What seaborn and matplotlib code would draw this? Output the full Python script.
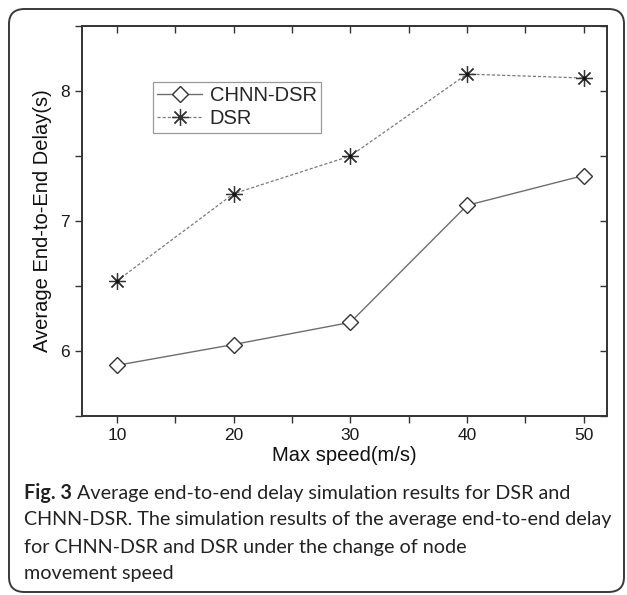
import matplotlib
matplotlib.use("Agg")
import matplotlib.pyplot as plt
import seaborn as sns
import numpy as np
import pandas as pd
from matplotlib.patches import FancyBboxPatch
from matplotlib.ticker import MultipleLocator

# ---- data ----
speeds = [10, 20, 30, 40, 50]
chnn_dsr = [5.89, 6.05, 6.22, 7.12, 7.35]
dsr = [6.54, 7.21, 7.50, 8.13, 8.10]
series_names = ["CHNN-DSR", "DSR"]
x_label = "Max speed(m/s)"
y_label = "Average End-to-End Delay(s)"
x_ticks = [10, 20, 30, 40, 50]
y_ticks = [6, 7, 8]
caption_bold = "Fig. 3"
caption_lines = [
    " Average end-to-end delay simulation results for DSR and",
    "CHNN-DSR. The simulation results of the average end-to-end delay",
    "for CHNN-DSR and DSR under the change of node",
    "movement speed",
]

sns.set_theme(style="white")
plt.rcParams["font.family"] = ["Liberation Sans", "DejaVu Sans"]

W, H = 627, 595
fig = plt.figure(figsize=(W / 100, H / 100), dpi=100)
fig.patch.set_facecolor("white")

# rounded frame
box = FancyBboxPatch((9 / W, 3 / H), (615) / W, (583) / H,
                     boxstyle="round,pad=0,rounding_size=0.025",
                     transform=fig.transFigure, fill=False,
                     edgecolor="#3a3a3a", linewidth=1.4)
fig.patches.append(box)

ax = fig.add_axes([82 / W, 1 - 416 / H, (607 - 82) / W, (416 - 26) / H])

df = pd.DataFrame({"speed": speeds, "CHNN-DSR": chnn_dsr, "DSR": dsr})

sns.lineplot(data=df, x="speed", y="CHNN-DSR", ax=ax, color="#6e6e6e", lw=1.0,
             marker="D", markersize=8, markerfacecolor="white",
             markeredgecolor="#333333", markeredgewidth=1.0,
             label=series_names[0])
sns.lineplot(data=df, x="speed", y="DSR", ax=ax, color="#7a7a7a", lw=0.9,
             linestyle=(0, (2.5, 1.6)),
             marker=(8, 2, 0), markersize=12, markeredgecolor="#333333",
             markeredgewidth=0.9, label=series_names[1])
sns.scatterplot(data=df, x="speed", y="DSR", ax=ax, color="#111111", s=6,
                linewidth=0, legend=False, zorder=5)

ax.set_xlim(7, 52)
ax.set_ylim(5.5, 8.5)
ax.set_xticks(x_ticks)
ax.set_yticks(y_ticks)
ax.xaxis.set_minor_locator(MultipleLocator(5))
ax.yaxis.set_minor_locator(MultipleLocator(0.5))
ax.tick_params(axis="both", which="both", direction="out", length=5,
               width=1.0, color="#333333", labelsize=12.5, labelcolor="#1a1a1a",
               bottom=True, left=True, pad=4)
ax.tick_params(which="both", top=False, right=False)
secx = ax.secondary_xaxis("top")
secx.set_xticks(x_ticks)
secx.xaxis.set_minor_locator(MultipleLocator(5))
secx.tick_params(which="both", direction="in", length=5, width=1.0,
                 color="#333333", labeltop=False)
secx.spines["top"].set_visible(False)
secy = ax.secondary_yaxis("right")
secy.set_yticks(y_ticks)
secy.yaxis.set_minor_locator(MultipleLocator(0.5))
secy.tick_params(which="both", direction="in", length=5, width=1.0,
                 color="#333333", labelright=False)
secy.spines["right"].set_visible(False)

for s in ax.spines.values():
    s.set_visible(True)
    s.set_color("#333333")
    s.set_linewidth(1.4)

ax.set_xlabel(x_label, fontsize=14.5, labelpad=2, color="#111111")
ax.set_ylabel(y_label, fontsize=14.5, labelpad=6, color="#111111")

leg = ax.legend(loc="upper left", bbox_to_anchor=((153 - 82) / 525, (416 - 82) / 390),
                fontsize=14.5, frameon=True, fancybox=False, edgecolor="#808080",
                handlelength=2.2, handletextpad=0.4, labelspacing=0.2,
                borderpad=0.22, borderaxespad=0, numpoints=1)
leg.get_frame().set_linewidth(0.9)

# caption, font size fitted so the first line spans the same width as the reference
cap_font = ["Lato", "DejaVu Sans"]
cap_color = "#222222"
ys = [493, 520, 547, 573]
x0 = 24
target_w = 570 - x0
renderer = fig.canvas.get_renderer()
fs = 15.0
probe_b = fig.text(0, 0, caption_bold, fontsize=fs, fontweight="bold", family=cap_font)
probe_r = fig.text(0, 0, caption_lines[0], fontsize=fs, family=cap_font)
w = probe_b.get_window_extent(renderer).width + probe_r.get_window_extent(renderer).width
probe_b.remove()
probe_r.remove()
fs = fs * target_w / w

t = fig.text(x0 / W, 1 - ys[0] / H, caption_bold, fontsize=fs, fontweight="bold",
             family=cap_font, va="center", ha="left", color=cap_color)
bb = t.get_window_extent(renderer)
fig.text(bb.x1 / W, 1 - ys[0] / H, caption_lines[0], fontsize=fs, family=cap_font,
         va="center", ha="left", color=cap_color)
for line, yy in zip(caption_lines[1:], ys[1:]):
    fig.text(x0 / W, 1 - yy / H, line, fontsize=fs, family=cap_font,
             va="center", ha="left", color=cap_color)

fig.savefig("out.png", dpi=100, facecolor="white")
